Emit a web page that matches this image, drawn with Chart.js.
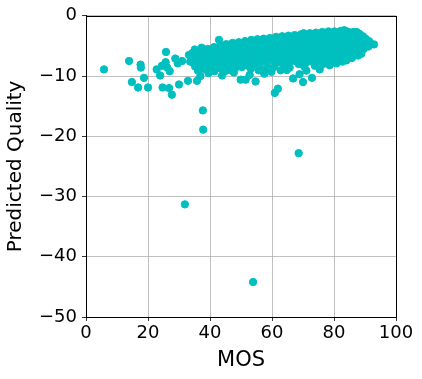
<!DOCTYPE html>
<html>
<head>
<meta charset="utf-8">
<script src="https://cdn.jsdelivr.net/npm/chart.js@4/dist/chart.umd.min.js"></script>
<style>
  html, body { margin: 0; padding: 0; background: #fff; }
  #wrap { width: 422px; height: 379px; }
</style>
</head>
<body>
<div id="wrap"><canvas id="scatter"></canvas></div>
<script>
// values (MOS vs predicted quality)
var mos = [
  5.8, 13.9, 14.8, 16.8, 17.6, 17.7, 18.7, 20.0, 22.8, 23.9, 24.5, 24.7, 25.7, 25.8, 26.2, 26.8, 27.0, 27.7, 28.8, 29.6, 30.0, 31.0,
  32.9, 35.8, 36.9, 37.7, 37.8, 31.9, 53.9, 68.6, 42.9, 43.9, 49.9, 51.5, 54.7, 60.9, 61.9, 66.8, 68.9, 70.0, 72.9,
  55.7, 62.8, 65.7, 71.1, 75.4, 78.6, 84.0, 88.8, 92.9,
  39.5, 44.8, 47.7, 52.8, 57.5, 59.8, 64.8, 73.8, 76.5, 80.8, 82.7, 85.8, 87.8,
  33.2, 33.6,
  34.3, 34.6,
  35.1, 35.4, 35.2,
  36.2, 36.5, 36.1,
  37.3, 37.1, 37.5,
  38.2, 38.4, 38.1,
  39.3, 39.1, 39.6,
  40.2, 40.5, 40.1,
  41.3, 41.1, 41.6, 41.4,
  42.2, 42.5, 42.1,
  43.3, 43.1, 43.6, 43.4,
  44.2, 44.5, 44.1,
  45.3, 45.1, 45.6, 45.4,
  46.2, 46.5, 46.1, 46.3,
  47.3, 47.1, 47.6, 47.4,
  48.2, 48.5, 48.1, 48.3,
  49.3, 49.1, 49.6, 49.4,
  50.2, 50.5, 50.1, 50.3,
  51.3, 51.1, 51.6, 51.4,
  52.2, 52.5, 52.1, 52.3,
  53.3, 53.1, 53.6, 53.4, 53.2,
  54.2, 54.5, 54.1, 54.3,
  55.3, 55.1, 55.6, 55.4,
  56.2, 56.5, 56.1, 56.3, 56.6,
  57.3, 57.1, 57.6, 57.4,
  58.2, 58.5, 58.1, 58.3, 58.6,
  59.3, 59.1, 59.6, 59.4,
  60.2, 60.5, 60.1, 60.3, 60.6,
  61.3, 61.1, 61.6, 61.4, 61.2,
  62.2, 62.5, 62.1, 62.3,
  63.3, 63.1, 63.6, 63.4, 63.2,
  64.2, 64.5, 64.1, 64.3, 64.6,
  65.3, 65.1, 65.6, 65.4, 65.2,
  66.2, 66.5, 66.1, 66.3,
  67.3, 67.1, 67.6, 67.4, 67.2,
  68.2, 68.5, 68.1, 68.3, 68.6,
  69.3, 69.1, 69.6, 69.4, 69.2,
  70.2, 70.5, 70.1, 70.3, 70.6, 70.4,
  71.3, 71.1, 71.6, 71.4, 71.2,
  72.2, 72.5, 72.1, 72.3, 72.6,
  73.3, 73.1, 73.6, 73.4, 73.2,
  74.2, 74.5, 74.1, 74.3, 74.6,
  75.3, 75.1, 75.6, 75.4, 75.2,
  76.2, 76.5, 76.1, 76.3, 76.6,
  77.3, 77.1, 77.6, 77.4, 77.2,
  78.2, 78.5, 78.1, 78.3, 78.6,
  79.3, 79.1, 79.6, 79.4, 79.2,
  80.2, 80.5, 80.1, 80.3, 80.6,
  81.3, 81.1, 81.6, 81.4, 81.2,
  82.2, 82.5, 82.1, 82.3, 82.6,
  83.3, 83.1, 83.6, 83.4, 83.2,
  84.2, 84.5, 84.1, 84.3, 84.6,
  85.3, 85.1, 85.6, 85.4,
  86.2, 86.5, 86.1, 86.3, 86.6,
  87.3, 87.1, 87.6, 87.4,
  88.2, 88.5, 88.1, 88.3,
  89.3, 89.1, 89.6,
  90.2, 90.5,
  91.3, 91.1
];
var quality = [
  -8.9, -7.5, -11.0, -11.9, -8.1, -8.6, -10.3, -11.9, -8.9, -9.9, -8.3, -11.9, -7.7, -6.0, -8.6, -12.0, -9.2, -13.1, -7.1, -7.9, -11.4, -7.5,
  -10.8, -10.8, -10.0, -15.7, -18.9, -31.3, -44.2, -22.8, -4.0, -9.9, -10.6, -10.6, -10.9, -12.8, -12.1, -10.4, -9.7, -11.0, -10.3,
  -9.05, -9.05, -8.6, -9.1, -8.9, -8.2, -7.4, -6.3, -4.75,
  -9.5, -9.2, -9.4, -9.8, -9.6, -9.3, -9.0, -8.3, -8.0, -7.9, -7.6, -7.0, -6.6,
  -6.5, -7.6,
  -6.2, -7.8,
  -5.6, -7.0, -8.4,
  -6.4, -7.6, -9.1,
  -5.3, -6.8, -8.0,
  -6.0, -7.3, -8.8,
  -5.5, -6.6, -7.9,
  -5.9, -7.1, -8.5,
  -5.2, -6.4, -7.7, -9.2,
  -5.7, -6.9, -8.1,
  -4.9, -6.2, -7.4, -8.7,
  -5.4, -6.6, -7.9,
  -4.7, -5.9, -7.2, -8.4,
  -5.2, -6.4, -7.6, -9.0,
  -4.5, -5.7, -6.9, -8.2,
  -5.0, -6.2, -7.4, -8.6,
  -4.4, -5.5, -6.7, -7.9,
  -4.8, -6.0, -7.2, -8.5,
  -4.2, -5.3, -6.5, -7.7,
  -4.6, -5.8, -7.0, -8.3,
  -4.0, -5.1, -6.3, -7.5, -8.8,
  -4.4, -5.6, -6.8, -8.0,
  -3.9, -5.0, -6.1, -7.3,
  -4.3, -5.4, -6.6, -7.8, -8.9,
  -3.8, -4.9, -6.0, -7.1,
  -4.2, -5.3, -6.4, -7.6, -8.6,
  -3.7, -4.8, -5.9, -7.0,
  -4.1, -5.2, -6.3, -7.4, -8.5,
  -3.5, -4.6, -5.7, -6.8, -7.9,
  -3.9, -5.0, -6.1, -7.2,
  -3.4, -4.5, -5.6, -6.7, -7.8,
  -3.8, -4.9, -6.0, -7.1, -8.3,
  -3.3, -4.4, -5.5, -6.6, -7.6,
  -3.7, -4.8, -5.9, -7.0,
  -3.2, -4.3, -5.4, -6.5, -7.5,
  -3.6, -4.7, -5.8, -6.9, -8.0,
  -3.1, -4.2, -5.3, -6.4, -7.4,
  -2.9, -4.0, -5.1, -6.2, -7.3, -8.4,
  -3.3, -4.4, -5.5, -6.6, -7.7,
  -2.9, -3.9, -5.0, -6.1, -7.1,
  -3.2, -4.3, -5.4, -6.5, -7.6,
  -2.8, -3.8, -4.9, -6.0, -7.0,
  -3.1, -4.2, -5.3, -6.4, -7.5,
  -2.7, -3.7, -4.8, -5.9, -6.9,
  -3.0, -4.1, -5.2, -6.3, -7.4,
  -2.6, -3.6, -4.7, -5.8, -6.8,
  -2.9, -4.0, -5.1, -6.2, -7.2,
  -2.6, -3.5, -4.6, -5.7, -6.7,
  -2.8, -3.9, -5.0, -6.1, -7.1,
  -2.5, -3.4, -4.5, -5.6, -6.6,
  -2.4, -3.8, -4.9, -6.0, -7.0,
  -2.6, -3.3, -4.4, -5.5, -6.5,
  -2.8, -3.7, -4.8, -5.9,
  -2.7, -3.2, -4.3, -5.4, -6.4,
  -2.7, -3.6, -4.7, -5.8,
  -3.0, -4.1, -5.2, -6.2,
  -3.4, -4.5, -5.5,
  -3.8, -4.8,
  -4.2, -5.1
];
var xTicks = [0, 20, 40, 60, 80, 100];
var yTicks = [0, -10, -20, -30, -40, -50];

var points = mos.map(function (m, i) { return { x: m, y: quality[i] }; });

// top/right spines like matplotlib
var boxPlugin = {
  id: 'box',
  afterDraw: function (chart) {
    var a = chart.chartArea, c = chart.ctx;
    c.save();
    c.strokeStyle = '#000';
    c.lineWidth = 1;
    c.strokeRect(Math.round(a.left) + 0.5, Math.round(a.top) + 0.5, Math.round(a.right - a.left), Math.round(a.bottom - a.top));
    c.restore();
  }
};

var font = 'DejaVu Sans';
new Chart(document.getElementById('scatter'), {
  type: 'scatter',
  data: {
    datasets: [{
      data: points,
      backgroundColor: 'rgb(0,191,191)',
      borderColor: 'rgb(0,191,191)',
      borderWidth: 1,
      pointRadius: 3.7
    }]
  },
  options: {
    responsive: true,
    maintainAspectRatio: false,
    animation: false,
    layout: { padding: { top: 15, right: 26, left: 0, bottom: 0 } },
    plugins: { legend: { display: false }, tooltip: { enabled: false } },
    scales: {
      x: {
        type: 'linear', min: 0, max: 100,
        afterBuildTicks: function (s) { s.ticks = xTicks.map(function (v) { return { value: v }; }); },
        afterFit: function (s) { s.height = 62; },
        grid: { color: '#b0b0b0', lineWidth: 0.8, tickColor: '#000', tickLength: 4, drawOnChartArea: true },
        border: { color: '#000', width: 1 },
        ticks: { color: '#000', font: { family: font, size: 18 }, padding: 2, maxRotation: 0 },
        title: { display: true, text: 'MOS', color: '#000', font: { family: font, size: 21 }, padding: { top: 0, bottom: 6 } }
      },
      y: {
        type: 'linear', min: -50, max: 0,
        afterBuildTicks: function (s) { s.ticks = yTicks.map(function (v) { return { value: v }; }); },
        afterFit: function (s) { s.width = 86; },
        grid: { color: '#b0b0b0', lineWidth: 0.8, tickColor: '#000', tickLength: 4 },
        border: { color: '#000', width: 1 },
        ticks: {
          color: '#000', font: { family: font, size: 18 }, padding: 5,
          callback: function (v) { return String(v).replace('-', '\u2212'); }
        },
        title: { display: true, text: 'Predicted Quality', color: '#000', font: { family: font, size: 20 }, padding: { top: 4, bottom: 4 } }
      }
    }
  },
  plugins: [boxPlugin]
});
</script>
</body>
</html>
